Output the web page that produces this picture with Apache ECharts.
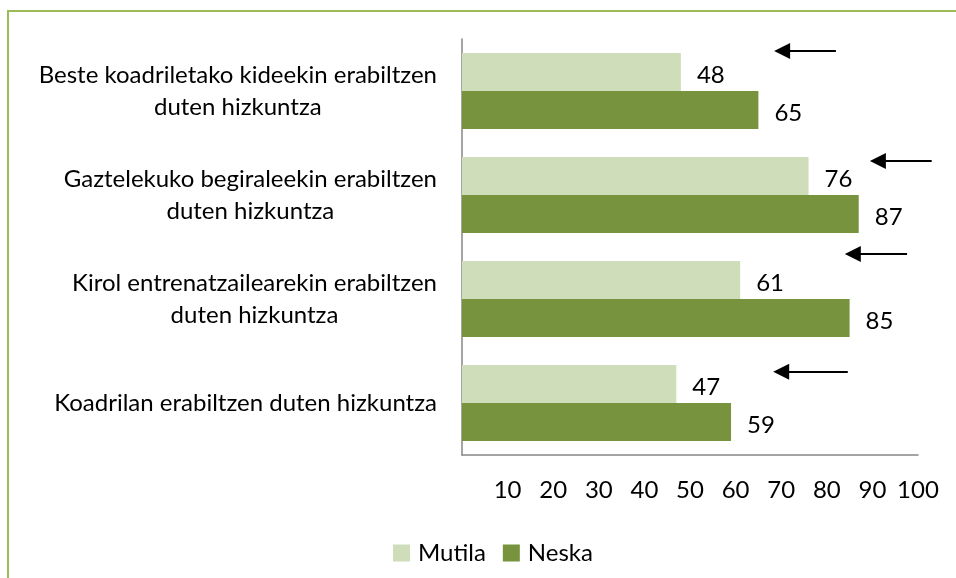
<!DOCTYPE html>
<html>
<head>
<meta charset="utf-8">
<script src="https://cdn.jsdelivr.net/npm/echarts@6/dist/echarts.min.js"></script>
<style>
  html, body { margin: 0; padding: 0; background: #fff; }
  #chart { width: 956px; height: 578px; }
</style>
</head>
<body>
<div id="chart"></div>
<script>
// kategoriak (goitik behera)
const categories = [
  'Beste koadriletako kideekin erabiltzen\nduten hizkuntza',
  'Gaztelekuko begiraleekin erabiltzen\nduten hizkuntza',
  'Kirol entrenatzailearekin erabiltzen\nduten hizkuntza',
  'Koadrilan erabiltzen duten hizkuntza'
];
const mutila = [48, 76, 61, 47];
const neska = [65, 87, 85, 59];

// geziak: [hasiera x, punta x, y (0-100 eskala bertikala)]
const arrowTail = [82, 103, 97.6, 84.6];
const arrowTip = [70.2, 91.2, 85.7, 70];
const arrowY = [97.1, 70.7, 48.3, 20];

const font = 'Lato';
const fs = 24;
const chartDom = document.getElementById('chart');
const myChart = echarts.init(chartDom);

const valueLabel = {
  show: true,
  position: 'right',
  distance: 16,
  offset: [0, 3],
  fontSize: fs,
  fontFamily: font,
  color: '#000'
};

const option = {
  animation: false,
  textStyle: { fontFamily: font },
  graphic: [{
    type: 'rect',
    shape: { x: 8, y: 11, width: 1200, height: 1000 },
    style: { fill: 'none', stroke: '#9BBB59', lineWidth: 2 },
    silent: true
  }],
  grid: { left: 462, right: 38, top: 39, bottom: 123 },
  legend: {
    left: 388,
    top: 536,
    icon: 'rect',
    itemWidth: 17,
    itemHeight: 17,
    itemGap: 17,
    textStyle: { fontFamily: font, fontSize: fs, color: '#000', padding: [0, 0, 0, 3] },
    data: ['Mutila', 'Neska']
  },
  xAxis: {
    type: 'value',
    min: 0,
    max: 100,
    interval: 10,
    splitLine: { show: false },
    axisTick: { show: false },
    axisLine: { show: true, lineStyle: { color: '#868686', width: 1.5 } },
    axisLabel: {
      margin: 23,
      fontSize: fs,
      color: '#000',
      fontFamily: font,
      formatter: v => (v === 0 ? '' : v)
    }
  },
  yAxis: [{
    type: 'category',
    inverse: true,
    data: categories,
    axisTick: { show: false },
    axisLine: { show: true, lineStyle: { color: '#868686', width: 1.5 } },
    axisLabel: {
      margin: 25,
      color: '#000',
      fontFamily: font,
      fontSize: fs,
      align: 'right',
      formatter: v => v.split('\n').map(s => '{a|' + s + '}').join('\n'),
      rich: {
        a: { align: 'center', fontSize: fs, fontFamily: font, color: '#000', lineHeight: 32 }
      }
    }
  }, {
    type: 'value',
    min: 0,
    max: 100,
    show: false
  }],
  series: [{
    name: 'Mutila',
    type: 'bar',
    data: mutila,
    barGap: '0%',
    barCategoryGap: '27%',
    itemStyle: { color: '#D0DDBA' },
    label: valueLabel
  }, {
    name: 'Neska',
    type: 'bar',
    data: neska,
    barGap: '0%',
    barCategoryGap: '27%',
    itemStyle: { color: '#78933E' },
    label: valueLabel
  }, {
    type: 'lines',
    coordinateSystem: 'cartesian2d',
    xAxisIndex: 0,
    yAxisIndex: 1,
    clip: false,
    symbol: ['none', 'triangle'],
    symbolSize: [14, 16],
    lineStyle: { color: '#000', width: 2, opacity: 1 },
    silent: true,
    data: arrowTip.map((tip, i) => ({
      coords: [[arrowTail[i], arrowY[i]], [tip, arrowY[i]]]
    }))
  }]
};

myChart.setOption(option);
</script>
</body>
</html>
